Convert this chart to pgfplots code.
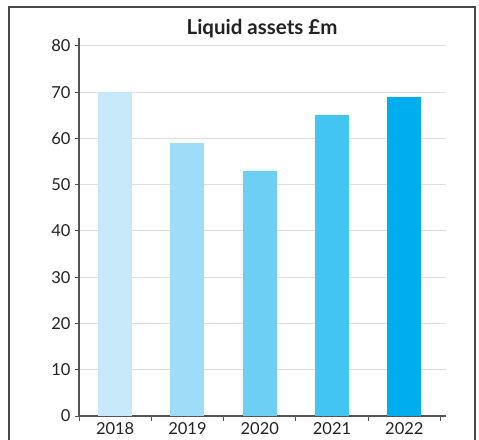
\documentclass[border=0pt]{standalone}
\usepackage{pgfplots}
\pgfplotsset{compat=1.18}
\usepackage{fontspec}
\setmainfont{Lato}
\definecolor{c1}{HTML}{C8E9F9}
\definecolor{c2}{HTML}{9EDCF7}
\definecolor{c3}{HTML}{6DCFF4}
\definecolor{c4}{HTML}{42C5F2}
\definecolor{c5}{HTML}{00AEEF}
\definecolor{axc}{HTML}{555555}
\definecolor{gridc}{HTML}{DEDEDE}
\definecolor{txt}{HTML}{222222}
\begin{document}
\begin{tikzpicture}[x=1pt,y=1pt]
\useasboundingbox (0,0) rectangle (479,439);
\draw[color=axc!85!black, line width=1.8pt] (9,-10) -- (9,432) -- (475,432) -- (475,-10);
\node[anchor=base, font=\bfseries\fontsize{20.5}{24}\selectfont, text=txt] at (262,404) {Liquid assets £m};
\begin{axis}[
  at={(79pt,23pt)}, anchor=south west,
  scale only axis, width=367pt, height=378pt,
  xmin=-0.5, xmax=4.576, ymin=0, ymax=81.7,
  axis x line=bottom, axis y line=left,
  axis line style={-, color=axc, line width=1.1pt},
  ytick={0,10,...,80},
  ymajorgrids, grid style={color=gridc, line width=0.9pt},
  xtick={0,1,2,3,4},
  xticklabels={2018,2019,2020,2021,2022},
  major x tick style={draw=none},
  minor xtick={-0.5,0.5,1.5,2.5,3.5,4.5},
  minor x tick style={color=axc, line width=1pt},
  minor tick length=5pt,
  major tick length=4pt,
  tick align=outside,
  y tick style={color=axc, line width=1pt},
  tick label style={font=\fontsize{16.5}{18}\selectfont, text=txt},
  /pgf/number format/assume math mode=true,
  xticklabel style={yshift=1pt},
  yticklabel style={xshift=-1pt},
  ybar, bar width=34pt, bar shift=0pt,
  every axis plot/.append style={draw=none},
  clip=false,
]
\addplot[fill=c1] coordinates {(0,70)};
\addplot[fill=c2] coordinates {(1,59)};
\addplot[fill=c3] coordinates {(2,53)};
\addplot[fill=c4] coordinates {(3,65)};
\addplot[fill=c5] coordinates {(4,69)};
\end{axis}
\end{tikzpicture}
\end{document}
